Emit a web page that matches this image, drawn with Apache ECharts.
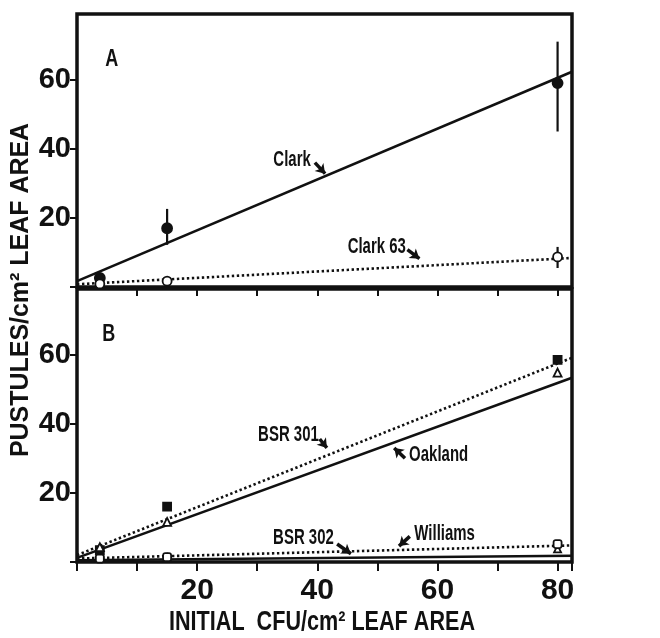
<!DOCTYPE html>
<html><head><meta charset="utf-8">
<script src="https://cdn.jsdelivr.net/npm/echarts@6/dist/echarts.min.js"></script>
<style>html,body{margin:0;padding:0;background:#fff}#c{width:660px;height:638px}</style>
</head><body><div id="c"></div>
<script>
// ---- data ----
const xLevels = [3.8, 15, 80];
const clarkMean = [2.6, 17, 59];
const clarkErrLow = [null, 12.2, 45];
const clarkErrHigh = [null, 22.6, 71];
const clark63Mean = [0.9, 1.7, 8.7];
const clark63ErrLow = [null, null, 5.5];
const clark63ErrHigh = [null, null, 11.6];
const bsr301Mean = [3.4, 16, 58.5];
const oaklandMean = [4.3, 11.6, 54.8];
const bsr302Mean = [1.2, 1.3, 3.8];
const williamsMean = [1.0, 1.4, 5.2];
const fitX = [0, 82.4];
const clarkFit = [1.7, 62.3];
const clark63Fit = [0.8, 8.4];
const bsr301Fit = [2.0, 59.1];
const oaklandFit = [1.2, 53.3];
const bsr302Fit = [1.0, 4.8];
const williamsFit = [0.5, 1.8];
const yTickLabels = [20, 40, 60];
const xTickLabels = [20, 40, 60, 80];
const xMin = 0, xMax = 82.4, yMin = 0, yMax = 79;

const FONT = "'Liberation Sans',Arial,sans-serif";
const INK = '#111';

function pairs(xs, ys){ return xs.map((x,i)=>ys[i]==null?null:[x,ys[i]]).filter(Boolean); }
function errs(xs, lo, hi){ return xs.map((x,i)=>lo[i]==null?null:[x,lo[i],hi[i]]).filter(Boolean); }

function fitSeries(name, g, ys, dotted){
  return {name, type:'line', xAxisIndex:g, yAxisIndex:g, data:pairs(fitX, ys), symbol:'none', silent:true,
    lineStyle:{color:INK, width:2.6, type: dotted?[2.4,2.6]:'solid'}, z:3};
}
function markerSeries(name, g, ys, symbol, filled, size){
  return {name, type:'scatter', xAxisIndex:g, yAxisIndex:g, data:pairs(xLevels, ys), symbol, symbolSize:size,
    itemStyle:{opacity:1, color: filled?INK:'#fff', borderColor:INK, borderWidth:1.8}, z:5};
}
function errSeries(g, lo, hi){
  return {type:'custom', xAxisIndex:g, yAxisIndex:g, data:errs(xLevels, lo, hi), encode:{x:0,y:[1,2]}, z:4,
    renderItem:(p, api)=>{ const x=api.value(0); const a=api.coord([x,api.value(1)]); const b=api.coord([x,api.value(2)]);
      return {type:'line', shape:{x1:a[0],y1:a[1],x2:b[0],y2:b[1]}, style:{stroke:INK, lineWidth:2.2}}; }};
}
// annotations: condensed bold text placed at data positions, plus arrows
function notes(g, items){
  const arrows = items.filter(it=>it.from).map(it=>[{coord:it.from},{coord:it.to}]);
  return {type:'custom', xAxisIndex:g, yAxisIndex:g, silent:true, z:6,
    data: items.map(it=>it.pos),
    renderItem:(p, api)=>{ const it = items[p.dataIndex]; const c = api.coord([api.value(0), api.value(1)]);
      return {type:'text', x:c[0], y:c[1], scaleX: it.sx || 0.68, scaleY:1,
        style:{text:it.text, x:0, y:0, fill:INK, font:'bold '+(it.size||21)+'px '+FONT, align:'center', verticalAlign:'middle'}}; },
    markLine: arrows.length ? {silent:true, symbol:['none','arrow'], symbolSize:[9,9],
      lineStyle:{color:INK, width:3.5, type:'solid'}, label:{show:false}, data:arrows} : undefined};
}

const grids = [
  {left:77, top:14, width:495, height:273, show:true, borderColor:INK, borderWidth:3.5, backgroundColor:'transparent'},
  {left:77, top:289, width:495, height:273, show:true, borderColor:INK, borderWidth:3.5, backgroundColor:'transparent'}
];
function xAx(g, labels){
  return {type:'value', gridIndex:g, min:xMin, max:xMax, interval:10, splitLine:{show:false},
    axisLine:{show:false}, axisTick:{show:true, inside:false, length:9, lineStyle:{color:INK, width:2}},
    axisLabel:{show:labels, margin:14, color:INK, fontFamily:FONT, fontWeight:'bold', fontSize:30,
      formatter:v=>xTickLabels.includes(v)?String(v):''}};
}
function yAx(g){
  return {type:'value', gridIndex:g, min:yMin, max:yMax, interval:20, splitLine:{show:false},
    axisLine:{show:false}, axisTick:{show:true, inside:false, length:7, lineStyle:{color:INK, width:2}},
    axisLabel:{margin:6, color:INK, fontFamily:FONT, fontWeight:'bold', fontSize:29, showMaxLabel:false,
      formatter:v=>yTickLabels.includes(v)?String(v):''}};
}

const option = {
  animation:false,
  backgroundColor:'#fff',
  grid:grids,
  xAxis:[xAx(0,false), xAx(1,true)],
  yAxis:[yAx(0), yAx(1)],
  graphic:[
    {type:'text', x:21, y:290, rotation:Math.PI/2, scaleX:0.96,
      style:{text:'PUSTULES/cm² LEAF AREA', fill:INK, font:"bold 26px "+FONT, align:'center', verticalAlign:'middle'}},
    {type:'text', x:322, y:623, scaleX:0.8,
      style:{text:'INITIAL  CFU/cm² LEAF AREA', fill:INK, font:"bold 27px "+FONT, align:'center', verticalAlign:'middle'}}
  ],
  series:[
    fitSeries('Clark fit',0,clarkFit,false),
    fitSeries('Clark 63 fit',0,clark63Fit,true),
    errSeries(0, clarkErrLow, clarkErrHigh),
    errSeries(0, clark63ErrLow, clark63ErrHigh),
    markerSeries('Clark',0,clarkMean,'circle',true,10),
    markerSeries('Clark 63',0,clark63Mean,'circle',false,9),
    fitSeries('BSR 301 fit',1,bsr301Fit,true),
    fitSeries('Oakland fit',1,oaklandFit,false),
    fitSeries('BSR 302 fit',1,bsr302Fit,true),
    fitSeries('Williams fit',1,williamsFit,false),
    markerSeries('BSR 301',1,bsr301Mean,'rect',true,8),
    markerSeries('Oakland',1,oaklandMean,'triangle',false,8),
    markerSeries('BSR 302',1,bsr302Mean,'triangle',false,7),
    markerSeries('Williams',1,williamsMean,'roundRect',false,8),
    notes(0, [
      {text:'A', pos:[5.8,65.8], size:24, sx:0.75},
      {text:'Clark', pos:[35.8,36.8], size:22, from:[39.6,36.0], to:[41.3,32.8]},
      {text:'Clark 63', pos:[49.9,11.6], size:22, from:[55.0,10.8], to:[57.0,8.2]}
    ]),
    notes(1, [
      {text:'B', pos:[5.3,65.8], size:24, sx:0.75},
      {text:'BSR 301', pos:[35.2,36.8], size:22, from:[40.4,35.6], to:[41.6,33.0]},
      {text:'Oakland', pos:[60.2,31.0], size:22, from:[54.6,30.0], to:[52.8,33.0]},
      {text:'BSR 302', pos:[37.7,7.0], size:22, from:[43.3,5.2], to:[45.6,2.4]},
      {text:'Williams', pos:[61.2,8.1], size:22, from:[55.4,7.4], to:[53.6,4.6]}
    ])
  ]
};
echarts.init(document.getElementById('c'), null, {renderer:'canvas'}).setOption(option);
</script></body></html>
